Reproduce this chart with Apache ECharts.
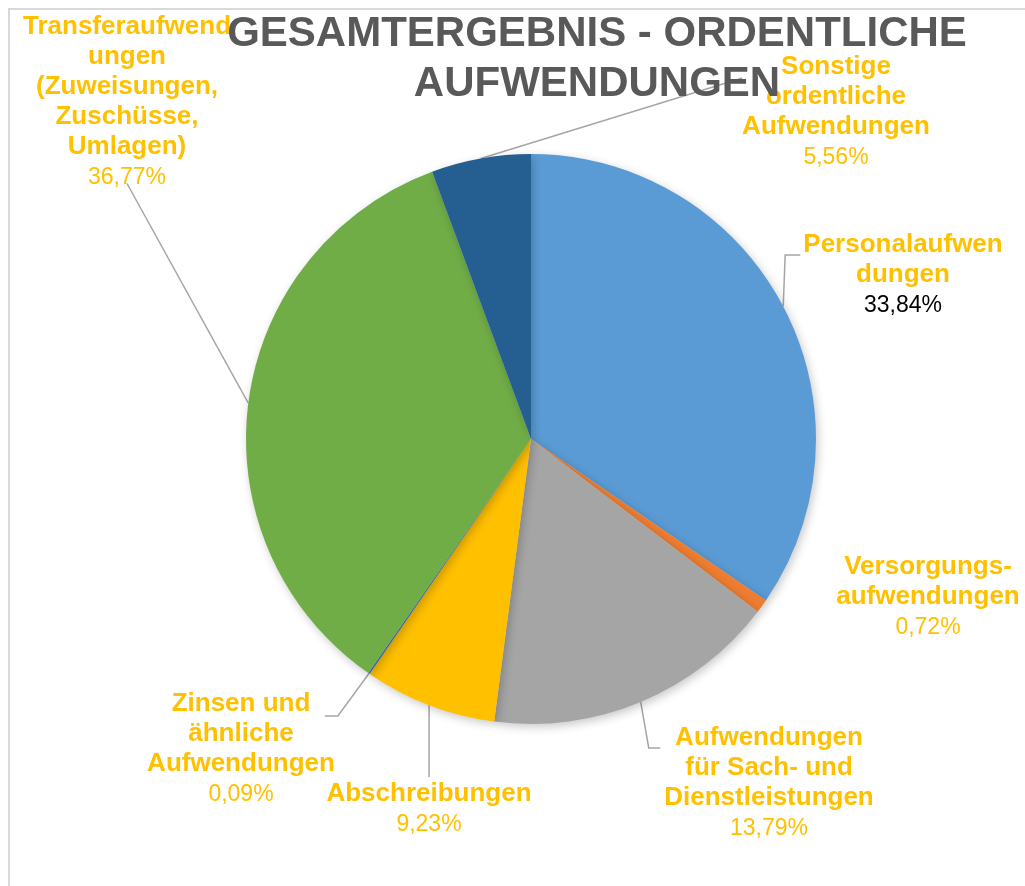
<!DOCTYPE html>
<html>
<head>
<meta charset="utf-8">
<script src="https://cdn.jsdelivr.net/npm/echarts@6/dist/echarts.min.js"></script>
<style>
	html, body { margin:0; padding:0; background:#fff; }
	#frame { position:absolute; left:8px; top:8px; width:1017px; height:878px; border-left:2px solid #d9d9d9; border-top:2px solid #d9d9d9; }
	#main { position:absolute; left:0; top:0; width:1025px; height:886px; }
</style>
</head>
<body>
<div id="frame"></div>
<div id="main"></div>
<script>
//Daten
var categories = [
	'Personalaufwendungen',
	'Versorgungsaufwendungen',
	'Aufwendungen für Sach- und Dienstleistungen',
	'Abschreibungen',
	'Zinsen und ähnliche Aufwendungen',
	'Transferaufwendungen (Zuweisungen, Zuschüsse, Umlagen)',
	'Sonstige ordentliche Aufwendungen'
];
var label_lines = [
	['Personalaufwen', 'dungen'],
	['Versorgungs-', 'aufwendungen'],
	['Aufwendungen', 'für Sach- und', 'Dienstleistungen'],
	['Abschreibungen'],
	['Zinsen und', 'ähnliche', 'Aufwendungen'],
	['Transferaufwend', 'ungen', '(Zuweisungen,', 'Zuschüsse,', 'Umlagen)'],
	['Sonstige', 'ordentliche', 'Aufwendungen']
];
//Segmentgrößen (aus dem Bild geschätzt)
var slice_values = [34.58, 0.78, 16.70, 7.52, 0.09, 34.69, 5.64];
//Beschriftete Prozentwerte
var percent_labels = ['33,84%', '0,72%', '13,79%', '9,23%', '0,09%', '36,77%', '5,56%'];
var colors = ['#5B9BD5', '#ED7D31', '#A5A5A5', '#FFC000', '#4472C4', '#70AD47', '#255E91'];

//Label-Positionen (Mitte x, oberer Rand y)
var label_pos = [
	[903, 230],
	[928, 552],
	[769, 723],
	[429, 779],
	[241, 689],
	[127, 12],
	[836, 52]
];

var chart = echarts.init(document.getElementById('main'));

var pie_data = [];
for (var i = 0; i < categories.length; i++) {
	pie_data.push({
		name: categories[i],
		value: slice_values[i],
		itemStyle: { color: colors[i] },
		labelLine: { show: i !== 1 }
	});
}

chart.setOption({
	animation: false,
	title: {
		text: 'GESAMTERGEBNIS - ORDENTLICHE\nAUFWENDUNGEN',
		left: 597,
		top: 9,
		padding: 0,
		textAlign: 'center',
		textStyle: {
			fontFamily: 'Liberation Sans',
			fontWeight: 'bold',
			fontSize: 42,
			lineHeight: 50,
			color: '#595959'
		}
	},
	series: [
		{
			type: 'pie',
			center: [531, 439],
			radius: 285,
			startAngle: 90,
			clockwise: true,
			data: pie_data,
			itemStyle: {
				borderWidth: 0,
				shadowBlur: 10,
				shadowOffsetX: 2,
				shadowOffsetY: 3,
				shadowColor: 'rgba(0,0,0,0.22)'
			},
			label: {
				show: true,
				position: 'outside',
				formatter: function (p) {
					var lines = label_lines[p.dataIndex];
					var s = lines.map(function (l) { return '{n|' + l + '}'; }).join('\n');
					var pct = percent_labels[p.dataIndex];
					s += '\n' + (p.dataIndex === 0 ? '{pb|' + pct + '}' : '{p|' + pct + '}');
					return s;
				},
				rich: {
					n: { fontFamily: 'Liberation Sans', fontWeight: 'bold', fontSize: 26, lineHeight: 30, color: '#FFC000', align: 'center' },
					p: { fontFamily: 'Liberation Sans', fontSize: 23, lineHeight: 32, color: '#FFC000', align: 'center' },
					pb: { fontFamily: 'Liberation Sans', fontSize: 23, lineHeight: 32, color: '#000000', align: 'center' }
				}
			},
			labelLine: {
				show: true,
				length: 12,
				length2: 12,
				lineStyle: { color: '#A6A6A6', width: 1.5 }
			},
			labelLayout: function (params) {
				var idx = params.dataIndex;
				var pos = label_pos[idx];
				var w = params.labelRect.width;
				var h = params.labelRect.height;
				var left = pos[0] - w / 2, right = pos[0] + w / 2;
				var top = pos[1], bottom = pos[1] + h;
				var e = params.labelLinePoints ? params.labelLinePoints[0] : null;
				var pts;
				if (e) {
					if (idx === 0) pts = [e, [e[0] + 2, top + 25], [left - 3, top + 25]];
					else if (idx === 2) pts = [e, [e[0] + 8, top + 25], [left - 4, top + 25]];
					else if (idx === 3) pts = [e, [e[0], top - 2], [e[0], top - 2]];
					else if (idx === 4) pts = [e, [right + 3, top + 27], [right - 10, top + 27]];
					else if (idx === 5) pts = [e, [pos[0], bottom - 4], [pos[0], bottom - 4]];
					else if (idx === 6) pts = [e, [left, top + 26], [left, top + 26]];
				}
				var out = {
					x: pos[0],
					y: pos[1],
					align: 'center',
					verticalAlign: 'top'
				};
				if (pts) out.labelLinePoints = pts;
				return out;
			}
		}
	]
});
</script>
</body>
</html>
